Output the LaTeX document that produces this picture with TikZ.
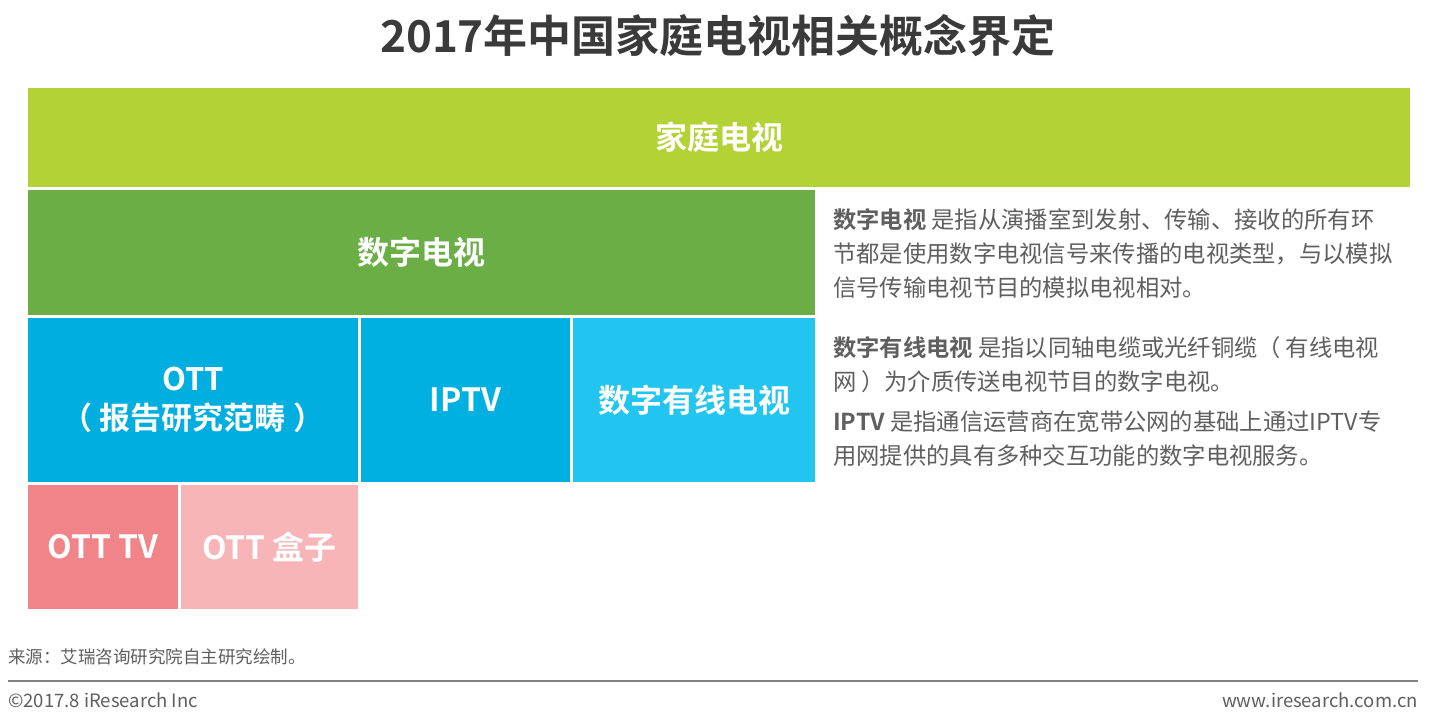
\documentclass[tikz,border=0pt]{standalone}
\usepackage{fontspec}
\setmainfont{Noto Sans CJK SC}[BoldFont={Noto Sans CJK SC Bold}]
\newfontfamily\cjk{Noto Sans CJK SC}[BoldFont={Noto Sans CJK SC Bold}]
\definecolor{cHome}{HTML}{B2D235}
\definecolor{cDig}{HTML}{6AAE45}
\definecolor{cOTT}{HTML}{00AEE0}
\definecolor{cIPTV}{HTML}{00B0E0}
\definecolor{cCable}{HTML}{22C5F0}
\definecolor{cOTTTV}{HTML}{F08489}
\definecolor{cBox}{HTML}{F8B5B8}
\definecolor{cTitle}{HTML}{3A3A3A}
\definecolor{cText}{HTML}{5F5F5F}
\definecolor{cRule}{HTML}{808080}
\tikzset{
  blk/.style={anchor=north west, inner sep=0pt, outer sep=0pt, text=white, align=center, font=\cjk\bfseries\fontsize{32}{38}\selectfont},
  desc/.style={anchor=west, inner sep=0pt, text=cText, font=\cjk\fontsize{23.3}{27}\selectfont},
  foot/.style={inner sep=0pt, text=cText, font=\cjk\fontsize{17.5}{21}\selectfont}
}
\begin{document}
\begin{tikzpicture}[x=1pt,y=-1pt]
\useasboundingbox[fill=white] (0,0) rectangle (1437,722);
% title
\node[inner sep=0pt, text=cTitle, font=\cjk\bfseries\fontsize{44}{50}\selectfont] (title) at (718,36) {2017年中国家庭电视相关概念界定};
% blocks
\node[blk, fill=cHome, minimum width=1382pt, minimum height=99pt] (home) at (28,88) {家庭电视};
\node[blk, fill=cDig, minimum width=787pt, minimum height=125pt] (dig) at (28,190) {数字电视};
\node[blk, fill=cOTT, minimum width=330pt, minimum height=164pt, font=\cjk\bfseries\fontsize{31}{39}\selectfont] (ott) at (28,318) {OTT\\（\hspace{0.25em}报告研究范畴\hspace{0.25em}）};
\node[blk, fill=cIPTV, minimum width=209pt, minimum height=164pt] (iptv) at (361,318) {IPTV};
\node[blk, fill=cCable, minimum width=242pt, minimum height=164pt] (cable) at (573,318) {数字有线电视};
\node[blk, fill=cOTTTV, minimum width=150pt, minimum height=124pt] (otttv) at (28,485) {OTT TV};
\node[blk, fill=cBox, minimum width=177pt, minimum height=124pt] (ottbox) at (181,485) {OTT 盒子};
% descriptions
\node[desc] (d1) at (833,220) {\textbf{数字电视} 是指从演播室到发射、传输、接收的所有环};
\node[desc] (d2) at (833,254) {节都是使用数字电视信号来传播的电视类型，与以模拟};
\node[desc] (d3) at (833,288) {信号传输电视节目的模拟电视相对。};
\node[desc] (d4) at (833,348) {\textbf{数字有线电视} 是指以同轴电缆或光纤铜缆（\hspace{0.2em}有线电视};
\node[desc] (d5) at (833,382) {网\hspace{0.2em}）为介质传送电视节目的数字电视。};
\node[desc] (d6) at (833,422) {\textbf{IPTV} 是指通信运营商在宽带公网的基础上通过IPTV专};
\node[desc] (d7) at (833,456) {用网提供的具有多种交互功能的数字电视服务。};
% footer
\node[foot, anchor=west] (src) at (8,657) {来源：艾瑞咨询研究院自主研究绘制。};
\coordinate (rl) at (8,681);
\coordinate (rr) at (1418,681);
\draw[cRule, line width=2pt] (rl) -- (rr);
\node[foot, anchor=west, font=\cjk\fontsize{18.5}{22}\selectfont] (copy) at (8,700) {©2017.8 iResearch Inc};
\node[foot, anchor=east, font=\cjk\fontsize{18.5}{22}\selectfont] (web) at (1418,700) {www.iresearch.com.cn};
\end{tikzpicture}
\end{document}
